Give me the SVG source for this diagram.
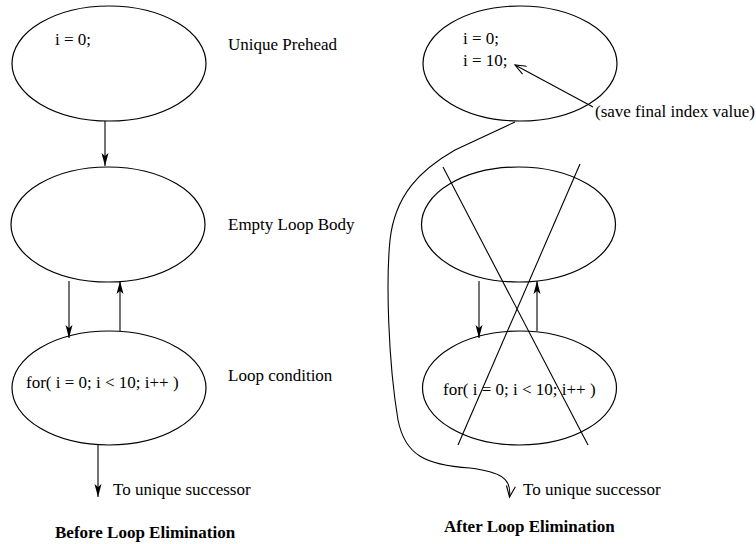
<svg xmlns="http://www.w3.org/2000/svg" width="756" height="544" viewBox="0 0 756 544">
<style>
.n{fill:none;stroke:#000;stroke-width:1.2}
.c{fill:none;stroke:#000;stroke-width:1.1}
text{font-family:"Liberation Serif","Times New Roman",serif;font-size:17px;fill:#000}
.b{font-weight:bold}
</style>
<defs>
<marker id="fa" markerUnits="userSpaceOnUse" markerWidth="14" markerHeight="8" refX="13" refY="4" orient="auto">
<path d="M0,0.5 L13,4 L0,7.5 L3,4 Z" fill="#000"/>
</marker>
<marker id="oa" markerUnits="userSpaceOnUse" markerWidth="14" markerHeight="10" refX="12" refY="5" orient="auto">
<path d="M1,0.5 L12,5 L1,9.5" fill="none" stroke="#000" stroke-width="1.1"/>
</marker>
</defs>
<rect width="756" height="544" fill="#fff"/>
<g id="left-prehead">
<ellipse class="n" cx="109" cy="63.5" rx="97" ry="57.5"/>
<text x="55" y="45">i = 0;</text>
</g>
<g id="left-body">
<ellipse class="n" cx="108" cy="224.5" rx="97" ry="57.5"/>
</g>
<g id="left-cond">
<ellipse class="n" cx="109" cy="388" rx="97" ry="57"/>
<text x="26" y="388">for( i = 0; i &lt; 10; i++ )</text>
</g>
<g id="right-prehead">
<ellipse class="n" cx="520" cy="63.5" rx="97" ry="57.5"/>
<text x="463" y="44">i = 0;</text>
<text x="463" y="66">i = 10;</text>
</g>
<g id="right-body">
<ellipse class="n" cx="518.5" cy="224.5" rx="97" ry="57.5"/>
</g>
<g id="right-cond">
<ellipse class="n" cx="519.5" cy="388" rx="97" ry="57"/>
<text x="443" y="395">for( i = 0; i &lt; 10; i++ )</text>
</g>
<g id="labels">
<text x="228" y="50">Unique Prehead</text>
<text x="228" y="230">Empty Loop Body</text>
<text x="228" y="381">Loop condition</text>
<text x="113" y="495">To unique successor</text>
<text x="523" y="495">To unique successor</text>
<text x="595" y="117">(save final index value)</text>
<text class="b" x="55" y="538">Before Loop Elimination</text>
<text class="b" x="444" y="532">After Loop Elimination</text>
</g>
<g id="connectors">
<line class="c" x1="105" y1="121" x2="105" y2="166" marker-end="url(#fa)"/>
<line class="c" x1="69" y1="281" x2="69" y2="338" marker-end="url(#fa)"/>
<line class="c" x1="120" y1="331" x2="120" y2="281" marker-end="url(#fa)"/>
<line class="c" x1="98" y1="445" x2="98" y2="497" marker-end="url(#fa)"/>
<line class="c" x1="479" y1="281" x2="479" y2="338" marker-end="url(#fa)"/>
<line class="c" x1="537" y1="331" x2="537" y2="281" marker-end="url(#fa)"/>
<line class="c" x1="593" y1="107" x2="515" y2="65" marker-end="url(#oa)"/>
<path class="c" d="M515,122 L455,150 C420,170 395,195 390,240 C386,280 388,360 398,420 C405,455 425,465 470,468 C500,472 512,478 509.5,497" marker-end="url(#oa)"/>
<line class="c" x1="443" y1="167" x2="588" y2="445"/>
<line class="c" x1="580" y1="164" x2="458" y2="445"/>
</g>
</svg>
